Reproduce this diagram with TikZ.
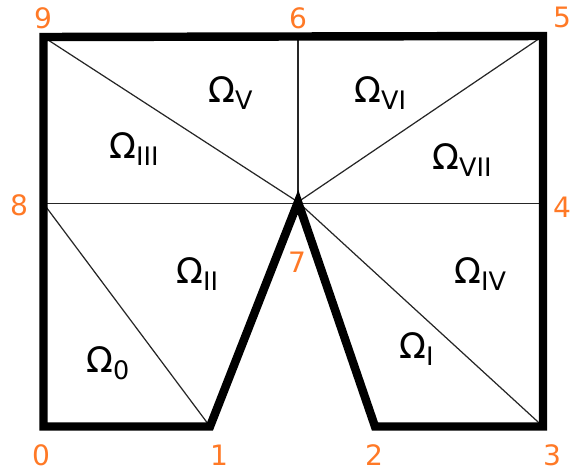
\documentclass[tikz,border=0pt]{standalone}
\usepackage{fontspec}
\setmainfont{DejaVu Sans}
\definecolor{vtx}{RGB}{255,121,38}
\definecolor{ink}{RGB}{0,0,0}
\usetikzlibrary{positioning}
\newcommand{\Om}[1]{Ω\raisebox{-0.22em}{\fontsize{14.5}{16}\selectfont #1}}

\begin{document}
\begin{tikzpicture}[x=0.02cm, y=-0.02cm,
    bound/.style={ink, line width=4.8pt, line join=miter},
    split/.style={ink!85, line width=0.7pt},
    vlabel/.style={text=vtx, font=\fontsize{16}{18}\selectfont, inner sep=0pt},
    region/.style={font=\fontsize{20}{24}\selectfont, inner sep=0pt, anchor=base west}]
  \useasboundingbox (0,0) rectangle (571,474);
  % mesh vertices
  \coordinate (p0) at (43.5,426.5);
  \coordinate (p1) at (210,426.5);
  \coordinate (p2) at (375,426.5);
  \coordinate (p3) at (543,426.5);
  \coordinate (p4) at (543,203.5);
  \coordinate (p5) at (543,36);
  \coordinate (p6) at (298,36.5);
  \coordinate (p7) at (298,202);
  \coordinate (p8) at (43.5,203.5);
  \coordinate (p9) at (43.5,37);
  % inner edges
  \draw[split] (p8) -- (p4);
  \draw[split] (p6) -- (p7);
  \draw[split] (p9) -- (p7);
  \draw[split] (p5) -- (p7);
  \draw[split] (p8) -- (p1);
  \draw[split] (p7) -- (p3);
  % outer boundary
  \draw[bound] (p0) -- (p1) -- (p7) -- (p2) -- (p3) -- (p5) -- (p9) -- cycle;
  % vertex numbers
  \node[vlabel] (n0) at (41,455) {0};
  \node[vlabel] (n1) at (219,455) {1};
  \node[vlabel] (n2) at (374,455) {2};
  \node[vlabel] (n3) at (552,455) {3};
  \node[vlabel] (n4) at (562,207) {4};
  \node[vlabel] (n5) at (562,17) {5};
  \node[vlabel] (n6) at (298,18) {6};
  \node[vlabel] (n7) at (297,262) {7};
  \node[vlabel] (n8) at (19,205) {8};
  \node[vlabel] (n9) at (43,18) {9};
  % subdomains
  \node[region] (om0) at (86,372) {\Om{0}};
  \node[region] (om1) at (399,358) {\Om{I}};
  \node[region] (om2) at (176,283) {\Om{II}};
  \node[region] (om3) at (109,158) {\Om{III}};
  \node[region] (om4) at (454,283) {\Om{IV}};
  \node[region] (om5) at (208,102) {\Om{V}};
  \node[region] (om6) at (354,102) {\Om{VI}};
  \node[region] (om7) at (432,169) {\Om{VII}};
\end{tikzpicture}
\end{document}
